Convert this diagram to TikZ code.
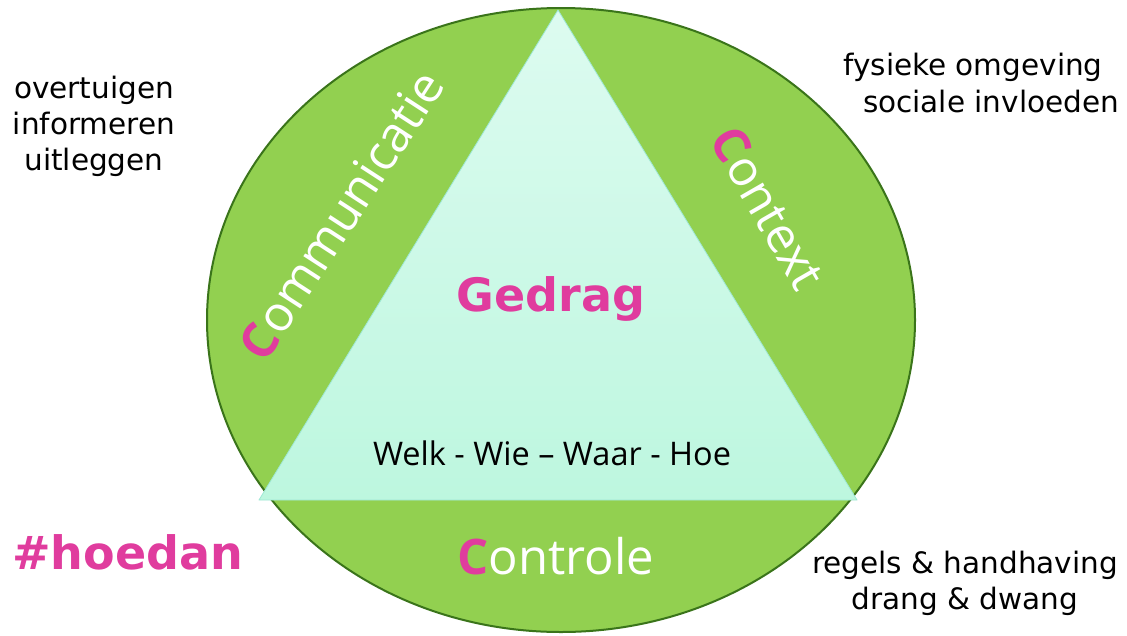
\documentclass[tikz,border=0pt]{standalone}
\usepackage{fontspec}
\setmainfont{DejaVu Sans}
\newfontfamily\labelfont{Open Sans}
\definecolor{cgreen}{HTML}{92D050}
\definecolor{cdark}{HTML}{3A741A}
\definecolor{cpink}{HTML}{E03C9E}
\definecolor{ctop}{HTML}{DDFBF0}
\definecolor{cbot}{HTML}{BDF7DF}
\definecolor{cedge}{HTML}{9EE8D5}
\newcommand{\pinkC}{\textcolor{cpink}{\bfseries C}}
\begin{document}
\begin{tikzpicture}[x=1pt,y=-1pt,
  sidetext/.style={align=center,font=\fontsize{29.5}{36}\selectfont,text=black,inner sep=0pt},
  clabel/.style={font=\labelfont\fontsize{49}{55}\selectfont,text=white,inner sep=0pt},
  pinkbold/.style={font=\bfseries\fontsize{46}{50}\selectfont,text=cpink,inner sep=0pt}]
\useasboundingbox (0,0) rectangle (1127,635);
\fill[white] (0,0) rectangle (1127,635);
% outer ellipse
\draw[fill=cgreen,draw=cdark,line width=2pt] (561,320) ellipse [x radius=354, y radius=312];
% triangle
\coordinate (ta) at (558,10);
\coordinate (tb) at (259,500);
\coordinate (tc) at (857,500);
\shade[top color=ctop,bottom color=cbot] (ta) -- (tb) -- (tc) -- cycle;
\draw[cedge,line width=0.8pt,line join=round] (ta) -- (tb) -- (tc) -- cycle;
% centre texts
\node[pinkbold] (gedrag) at (551,299) {Gedrag};
\node[font=\labelfont\fontsize{32.5}{36}\selectfont,inner sep=0pt] (vragen) at (552,453) {Welk - Wie \textendash{} Waar - Hoe};
% sides
\node[clabel,rotate=57] (comm) at (341,215) {\pinkC ommunicatie};
\node[clabel,rotate=-60] (cont) at (768,208) {\pinkC ontext};
\node[clabel] (contr) at (556,556) {\pinkC ontrole};
% outer texts
\node[sidetext] (left) at (94,126) {overtuigen\\informeren\\uitleggen};
\node[sidetext,anchor=center] (rt1) at (973,67) {fysieke omgeving};
\node[sidetext,anchor=center] (rt2) at (991,101) {sociale invloeden};
\node[sidetext] (rb) at (965,583) {regels \& handhaving\\drang \& dwang};
\node[pinkbold,anchor=west] (hash) at (12,552) {\#hoedan};
\end{tikzpicture}
\end{document}
